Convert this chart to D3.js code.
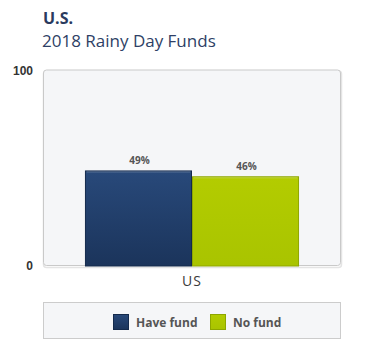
<!DOCTYPE html>
<html><head><meta charset="utf-8">
<script src="https://cdn.jsdelivr.net/npm/d3@7"></script>
<style>body{margin:0;background:#fff;}svg{display:block;}</style>
</head><body>
<script>
const titleText = "U.S.";
const subtitleText = "2018 Rainy Day Funds";
const categories = ["US"];
const seriesNames = ["Have fund", "No fund"];
const haveFund = [49];
const noFund = [46];
const yTicks = [0, 100];

const W = 379, H = 356;
const svg = d3.select("body").append("svg").attr("width", W).attr("height", H);
const defs = svg.append("defs");
function grad(id, c1, c2){
  const g = defs.append("linearGradient").attr("id", id).attr("x1",0).attr("y1",0).attr("x2",0).attr("y2",1);
  g.append("stop").attr("offset","0%").attr("stop-color",c1);
  g.append("stop").attr("offset","100%").attr("stop-color",c2);
}
grad("gBlue", "#28497a", "#1b345b");
grad("gGreen", "#b3cc00", "#a9c400");
const fills = ["url(#gBlue)", "url(#gGreen)"];
const strokes = ["#142a4c", "#8ea600"];
const swFill = ["url(#gBlue)", "url(#gGreen)"];

svg.append("text").attr("x", 43).attr("y", 24).text(titleText)
  .attr("font-family","Open Sans").attr("font-weight","bold").attr("font-size",16).attr("fill","#2a3a5e");
svg.append("text").attr("x", 42).attr("y", 47).text(subtitleText)
  .attr("font-family","Open Sans").attr("font-size",17).attr("fill","#2e3f66");

const plot = {x0: 43, x1: 341, y0: 69.5, y1: 266};
svg.append("rect").attr("x", plot.x0+0.5).attr("y", plot.y0+1.5).attr("width", plot.x1-plot.x0).attr("height", plot.y1-plot.y0)
  .attr("rx",3).attr("fill","none").attr("stroke","#e4e4e4").attr("stroke-width",1.5);
svg.append("rect").attr("x", plot.x0+0.5).attr("y", plot.y0+0.5).attr("width", plot.x1-plot.x0-1).attr("height", plot.y1-plot.y0-1)
  .attr("rx",3).attr("fill","#f5f6f8").attr("stroke","#c9c9c9");

const y = d3.scaleLinear().domain([0,100]).range([266, 71]);
const x0 = d3.scaleBand().domain(categories).range([plot.x0, plot.x1]).paddingInner(0).paddingOuter(0.196);
const x1 = d3.scaleBand().domain(seriesNames).range([0, x0.bandwidth()]);

const yAxis = svg.append("g").attr("transform","translate(33,0)")
  .call(d3.axisLeft(y).tickValues(yTicks).tickSize(0).tickPadding(0).tickFormat(d3.format("d")));
yAxis.select(".domain").remove();
yAxis.selectAll("text").attr("font-family","Liberation Sans, Arial").attr("font-weight","bold").attr("font-size",12).attr("fill","#333");

const values = [haveFund, noFund];
categories.forEach((c, ci) => {
  seriesNames.forEach((s, si) => {
    const v = values[si][ci];
    const bx = x0(c) + x1(s);
    svg.append("rect").attr("x", bx+0.5).attr("y", y(v)+0.5).attr("width", x1.bandwidth()-1).attr("height", y(0)-y(v)-0.5)
      .attr("fill", fills[si]).attr("stroke", strokes[si]);
    svg.append("line").attr("x1", bx+1.5).attr("x2", bx+x1.bandwidth()-1.5).attr("y1", y(v)+1.5).attr("y2", y(v)+1.5)
      .attr("stroke","rgba(255,255,255,0.25)");
    svg.append("text").attr("x", bx + x1.bandwidth()/2 + 1).attr("y", y(v)-6).attr("text-anchor","middle")
      .text(v + "%").attr("font-family","Open Sans").attr("font-weight","bold").attr("font-size",10).attr("fill","#555");
  });
  svg.append("text").attr("x", x0(c)+x0.bandwidth()/2).attr("y", 286).attr("text-anchor","middle").text(c)
    .attr("font-family","Open Sans").attr("font-size",14).attr("fill","#3a3a3a").attr("letter-spacing",1);
});

svg.append("rect").attr("x", 43.5).attr("y", 302.5).attr("width", 297).attr("height", 36)
  .attr("fill","#f5f6f8").attr("stroke","#cccccc");
const legX = [113, 210];
seriesNames.forEach((s, i) => {
  svg.append("rect").attr("x", legX[i]+0.5).attr("y", 314.5).attr("width", 15).attr("height", 15)
    .attr("fill", swFill[i]).attr("stroke", strokes[i]);
  svg.append("text").attr("x", legX[i]+23).attr("y", 326.5).text(s)
    .attr("font-family","Open Sans").attr("font-weight","bold").attr("font-size",12).attr("fill","#555");
});
</script>
</body></html>
